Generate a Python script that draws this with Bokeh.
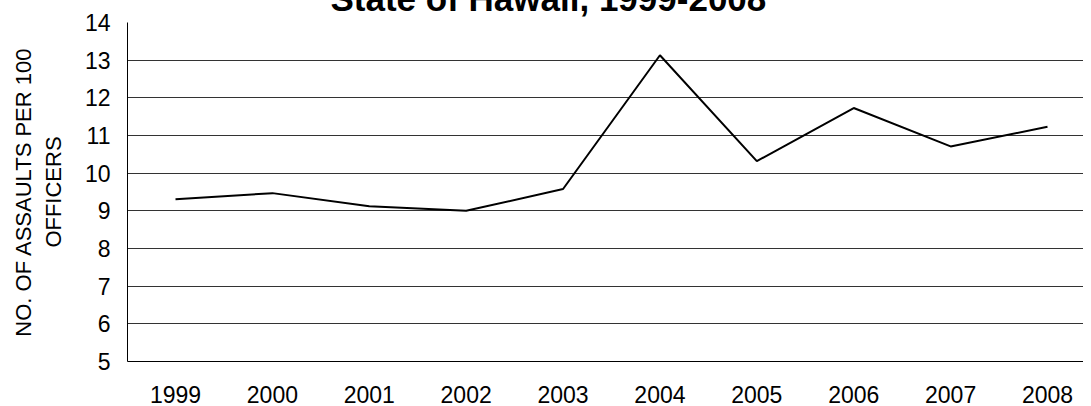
from bokeh.plotting import figure
from bokeh.models import Range1d, FixedTicker
from bokeh.embed import file_html
from bokeh.resources import INLINE

years = [1999, 2000, 2001, 2002, 2003, 2004, 2005, 2006, 2007, 2008]
assault_rate = [9.31, 9.47, 9.12, 9.0, 9.58, 13.13, 10.32, 11.73, 10.71, 11.23]
y_ticks = [5, 6, 7, 8, 9, 10, 11, 12, 13, 14]
title_text = "State of Hawaii, 1999-2008"
y_label = "NO. OF ASSAULTS PER 100\nOFFICERS"

FONT = "Liberation Sans"
SHIFT = 29  # title panel partly above the window top

p = figure(width=1083, height=384 + SHIFT + 43 - 22, output_backend="svg", toolbar_location=None,
           x_range=Range1d(1998.5046, 2008.3716), y_range=Range1d(5, 14),
           min_border_left=127, min_border_right=0, min_border_top=0, min_border_bottom=43)
p.styles = {"margin-top": f"-{SHIFT}px", "margin-bottom": f"-{SHIFT}px"}
p.outline_line_color = None
p.background_fill_color = "white"
p.border_fill_color = "white"

p.title.text = title_text
p.title.text_font = FONT
p.title.text_font_size = "35px"
p.title.text_font_style = "bold"
p.title.text_color = "black"
p.title.align = "left"
p.title.offset = 203
p.title.standoff = 10

p.line(years, assault_rate, line_color="black", line_width=2)

p.xaxis.ticker = FixedTicker(ticks=years)
p.yaxis.ticker = FixedTicker(ticks=y_ticks)
for ax in (p.xaxis, p.yaxis):
    ax.major_tick_out = 0
    ax.major_tick_in = 0
    ax.minor_tick_out = 0
    ax.minor_tick_in = 0
    ax.axis_line_color = "black"
    ax.axis_line_width = 1
    ax.major_label_text_font = FONT
    ax.major_label_text_font_size = "23px"
    ax.major_label_text_color = "black"
p.xaxis.major_label_standoff = 24
p.yaxis.major_label_standoff = 17
p.yaxis.axis_label = y_label
p.yaxis.axis_label_text_font = FONT
p.yaxis.axis_label_text_font_size = "22px"
p.yaxis.axis_label_text_font_style = "normal"
p.yaxis.axis_label_text_color = "black"
p.yaxis.axis_label_standoff = 16

p.xgrid.grid_line_color = None
p.ygrid.grid_line_color = "#333333"
p.ygrid.grid_line_width = 1

open("out.html", "w").write(file_html(p, INLINE))
